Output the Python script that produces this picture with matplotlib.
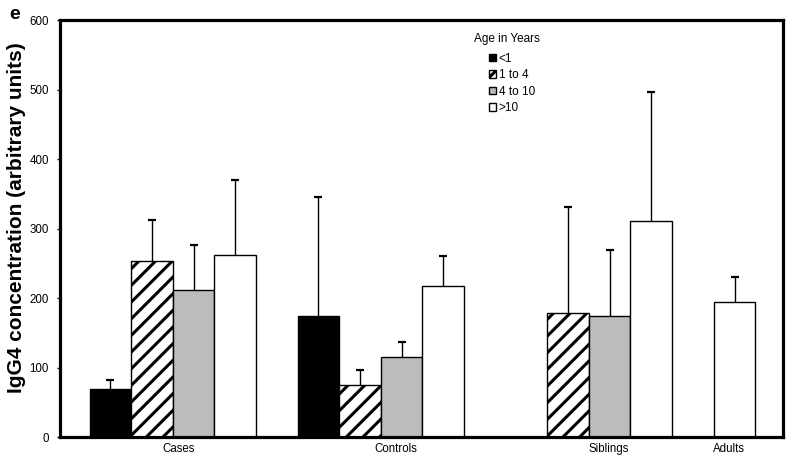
import numpy as np
import matplotlib.pyplot as plt
from matplotlib.patches import Patch

plt.rcParams['font.family'] = ['Liberation Sans', 'DejaVu Sans']
plt.rcParams['hatch.linewidth'] = 2.2

groups = ["Cases", "Controls", "Siblings", "Adults"]
ages = ["<1", "1 to 4", "4 to 10", ">10"]

# mean IgG4 per age band, one value per group (nan = no bar)
mean_lt1 = [69, 175, np.nan, np.nan]
mean_1_4 = [253, 75, 179, np.nan]
mean_4_10 = [212, 115, 174, np.nan]
mean_gt10 = [262, 217, 311, 194]

# upper error bars
err_lt1 = [13, 171, np.nan, np.nan]
err_1_4 = [60, 22, 152, np.nan]
err_4_10 = [65, 22, 95, np.nan]
err_gt10 = [108, 44, 186, 36]

means = [mean_lt1, mean_1_4, mean_4_10, mean_gt10]
errs = [err_lt1, err_1_4, err_4_10, err_gt10]

# slot where each group starts (bar width = 1 slot)
group_start = np.array([0, 5, 10, 12])
label_pos = [1.65, 6.86, 11.98, 14.87]

styles = [
    dict(color='black', hatch=None),
    dict(color='white', hatch='//'),
    dict(color='#bcbcbc', hatch=None),
    dict(color='white', hatch=None),
]

fig = plt.figure(figsize=(8, 4.57), dpi=100)
ax = fig.add_axes([0.075, 0.043, 0.904, 0.913])

for i, (m, e, st) in enumerate(zip(means, errs, styles)):
    m = np.array(m, dtype=float)
    e = np.array(e, dtype=float)
    x = group_start + i
    ok = ~np.isnan(m)
    ax.bar(x[ok], m[ok], width=1.0, color=st['color'], hatch=st['hatch'],
           edgecolor='black', linewidth=1.0, zorder=2)
    # upper-only error bars with a cap
    ax.vlines(x[ok], m[ok], m[ok] + e[ok], color='black', lw=1.0, zorder=1)
    ax.plot(x[ok], m[ok] + e[ok], ls='none', marker='_', ms=6, mew=1.6,
            color='black', zorder=1)

ax.set_xlim(-1.21, 16.17)
ax.set_ylim(0, 600)
ax.set_yticks(range(0, 601, 100))
ax.set_xticks(label_pos)
ax.set_xticklabels(groups, fontsize=8.3)
ax.tick_params(axis='x', length=0, pad=4)
ax.tick_params(axis='y', length=2, width=1, labelsize=8.3, pad=6)
for s in ax.spines.values():
    s.set_linewidth(2.3)

ax.set_ylabel('IgG4 concentration (arbitrary units)', fontsize=15,
              fontweight='bold')
ax.yaxis.set_label_coords(-0.047, 0.527)

# legend
fig.text(0.5925, 0.915, 'Age in Years', fontsize=8.5, va='center', ha='left')
handles = [Patch(facecolor=st['color'], hatch=st['hatch'], edgecolor='black',
                 linewidth=1.0) for st in styles]
fig.legend(handles, ages, loc='upper left', bbox_to_anchor=(0.611, 0.885),
           frameon=False, fontsize=8.5, handlelength=0.6, handleheight=0.6,
           handletextpad=0.25, labelspacing=0.38, borderaxespad=0, borderpad=0)

fig.text(0.011, 0.968, 'e', fontsize=14, fontweight='bold', va='center')

fig.savefig('out.png', dpi=100)
